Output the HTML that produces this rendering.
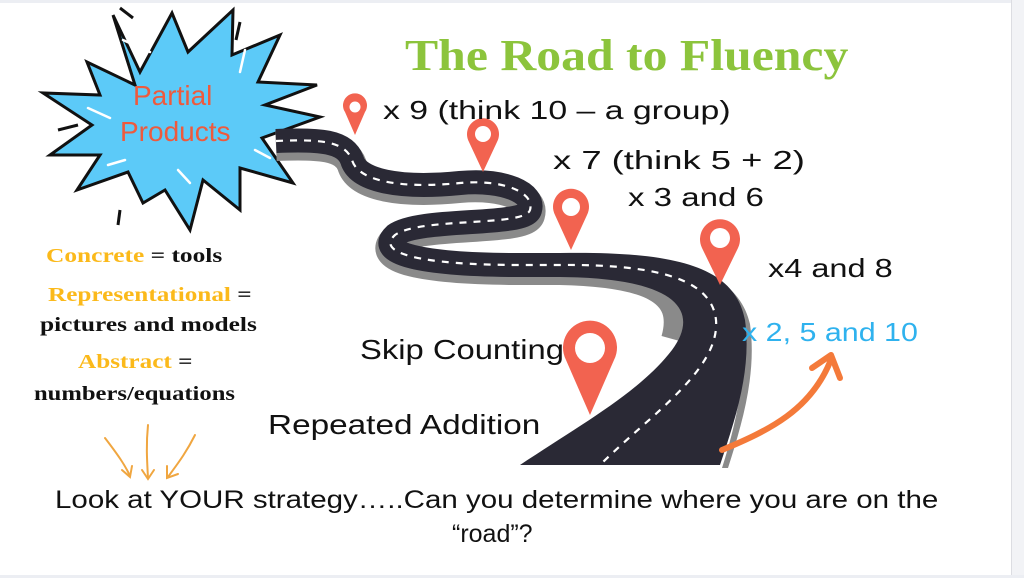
<!DOCTYPE html>
<html><head><style>
html,body{margin:0;padding:0;background:#fff;}
body{width:1024px;height:578px;overflow:hidden;position:relative;font-family:"Liberation Sans",sans-serif;}
.t{position:absolute;white-space:nowrap;color:#111;transform-origin:left top;}
.s{font-family:'Liberation Serif',serif;font-weight:bold;font-size:20px;}
</style></head><body>
<div style="position:absolute;left:0;top:0;width:1024px;height:3px;background:#eceef3"></div>
<div style="position:absolute;right:0;top:0;width:12px;height:578px;background:#f2f3f6;border-left:1px solid #dcdde2"></div>
<div style="position:absolute;left:0;bottom:0;width:1024px;height:3px;background:#eceef3"></div>
<svg width="1024" height="578" style="position:absolute;left:0;top:0">
 <polygon points="113,15 140,72 172,13 188,52 233,10 232,55 280,35 258,82 317,85 265,105 320,117 262,138 293,183 240,168 240,210 203,180 190,230 165,190 143,203 128,172 77,190 100,155 50,155 92,125 43,93 100,95 87,62 135,85"
  fill="#5ccaf8" stroke="#111" stroke-width="3" stroke-linejoin="miter"/>
 <g stroke="#fff" stroke-width="2.5" stroke-linecap="round" fill="none">
  <line x1="123" y1="40" x2="150" y2="52"/><line x1="245" y1="50" x2="240" y2="72"/>
  <line x1="88" y1="108" x2="110" y2="118"/><line x1="255" y1="150" x2="270" y2="158"/>
  <line x1="178" y1="170" x2="190" y2="183"/><line x1="108" y1="165" x2="125" y2="160"/>
 </g>
 <line x1="120" y1="8" x2="133" y2="18" stroke="#111" stroke-width="3"/>
 <line x1="240" y1="22" x2="236" y2="40" stroke="#111" stroke-width="3"/>
 <line x1="58" y1="130" x2="78" y2="125" stroke="#111" stroke-width="3"/>
 <line x1="120" y1="210" x2="118" y2="225" stroke="#111" stroke-width="3"/>
 <path d="M276,146 C320,144 345,146 352,165 C358,186 400,194 460,188 C505,184 535,198 530,215 C525,232 420,222 395,240 C375,258 420,270 520,270 L560,270 C650,272 690,290 676,340"
  fill="none" stroke="#8a8a8a" stroke-width="30"/>
 <path d="M560,256 C680,254 738,272 750,324 C757,374 742,424 728,468 L722,468 C736,424 748,374 740,324 Z" fill="#8a8a8a"/>
 <path d="M276,141 C320,139 345,141 352,160 C358,181 400,189 460,183 C505,179 535,193 530,210 C525,227 420,217 395,235 C375,253 420,265 520,265 L575,265"
  fill="none" stroke="#2a2935" stroke-width="24"/>
 <path d="M560,253 C680,251 735,268 745,320 C752,370 735,420 720,465 L520,465 C580,425 640,392 672,350 C700,312 680,278 560,277 Z" fill="#2a2935"/>
 <path d="M276,141 C320,139 345,141 352,160 C358,181 400,189 460,183 C505,179 535,193 530,210 C525,227 420,217 395,235 C375,253 420,265 520,265 L560,265 C665,264 712,282 716,320 C720,370 650,415 600,465"
  fill="none" stroke="#fff" stroke-width="2.2" stroke-dasharray="7,7"/>
 <g fill="#f26350">
  <path d="M355,135 L345,112 A12,12 0 1 1 365,112 Z"/><circle cx="355" cy="107" r="5.5" fill="#fff"/>
  <path d="M483,172 L469,142 A16,16 0 1 1 497,142 Z"/><circle cx="483" cy="134" r="8" fill="#fff"/>
  <path d="M571,250 L555,215 A18,18 0 1 1 587,215 Z"/><circle cx="571" cy="207" r="9" fill="#fff"/>
  <path d="M720,285 L702,248 A20,20 0 1 1 738,248 Z"/><circle cx="720" cy="238" r="10" fill="#fff"/>
  <path d="M590,415 L566,360 A27,27 0 1 1 614,360 Z"/><circle cx="590" cy="348" r="15" fill="#fff"/>
 </g>
 <path d="M722,450 C770,430 810,410 830,362" fill="none" stroke="#f47a3a" stroke-width="6" stroke-linecap="round"/>
 <path d="M812,368 L831,355 L840,378" fill="none" stroke="#f47a3a" stroke-width="6" stroke-linecap="round" stroke-linejoin="round"/>
 <g fill="none" stroke="#f0a640" stroke-width="2" stroke-linecap="round">
  <path d="M105,438 C118,455 125,465 130,476"/><path d="M122,470 L130,477 L132,466"/>
  <path d="M148,425 C146,445 147,460 148,478"/><path d="M142,470 L148,479 L154,470"/>
  <path d="M195,435 C185,455 175,467 168,477"/><path d="M167,466 L167,478 L178,474"/>
 </g>
</svg>
<div class="t" style="left:133px;top:80px;font-size:28px;color:#ee5a3d;">Partial</div>
<div class="t" style="left:120px;top:116px;font-size:28px;color:#ee5a3d;">Products</div>
<div class="t" style="left:405px;top:30px;font-size:44px;font-weight:bold;color:#8cc43c;font-family:'Liberation Serif',serif;transform:scaleX(1.13)">The Road to Fluency</div>
<div class="t" style="left:383px;top:95px;font-size:26px;transform:scaleX(1.3)">x 9 (think 10 – a group)</div>
<div class="t" style="left:553px;top:145px;font-size:26px;transform:scaleX(1.4)">x 7 (think 5 + 2)</div>
<div class="t" style="left:628px;top:182px;font-size:26px;transform:scaleX(1.27)">x 3 and 6</div>
<div class="t" style="left:768px;top:253px;font-size:26px;transform:scaleX(1.25)">x4 and 8</div>
<div class="t" style="left:742px;top:317px;font-size:26px;color:#2fb2ee;transform:scaleX(1.17)">x 2, 5 and 10</div>
<div class="t" style="left:360px;top:334px;font-size:28px;transform:scaleX(1.17)">Skip Counting</div>
<div class="t" style="left:268px;top:409px;font-size:28px;transform:scaleX(1.19)">Repeated Addition</div>
<div class="t s" style="left:46px;top:245px;transform:scaleX(1.27)"><span style="color:#fbb91a">Concrete</span> = tools</div>
<div class="t s" style="left:48px;top:284px;transform:scaleX(1.26)"><span style="color:#fbb91a">Representational</span> =</div>
<div class="t s" style="left:40px;top:314px;transform:scaleX(1.27)">pictures and models</div>
<div class="t s" style="left:78px;top:351px;transform:scaleX(1.26)"><span style="color:#fbb91a">Abstract</span> =</div>
<div class="t s" style="left:34px;top:383px;transform:scaleX(1.23)">numbers/equations</div>
<div class="t" style="left:55px;top:486px;font-size:25px;transform:scaleX(1.18)">Look at YOUR strategy…..Can you determine where you are on the</div>
<div class="t" style="left:452px;top:520px;font-size:25px;">“road”?</div>
</body></html>
